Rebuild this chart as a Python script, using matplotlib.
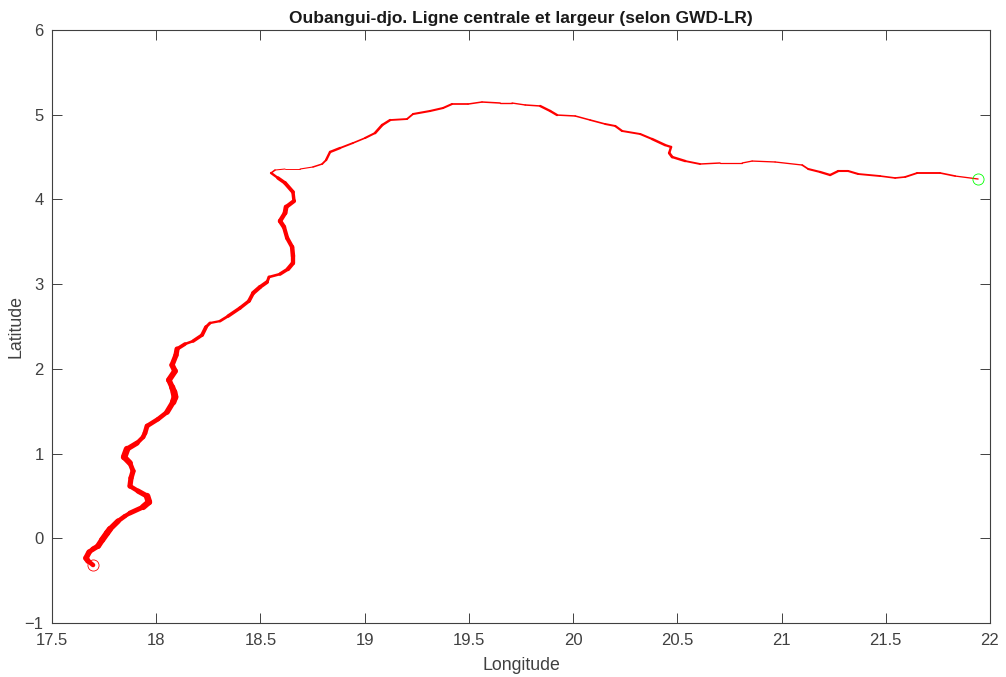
import numpy as np
import matplotlib
matplotlib.use("Agg")
import matplotlib.pyplot as plt
from matplotlib.collections import LineCollection

plt.rcParams["font.family"] = ["Liberation Sans", "DejaVu Sans"]

lon = [
    17.697, 17.673, 17.663, 17.678, 17.697, 17.721, 17.740, 17.764, 17.778, 17.817,
    17.850, 17.874, 17.937, 17.965, 17.956, 17.913, 17.874, 17.879, 17.889, 17.874,
    17.846, 17.860, 17.908, 17.937, 17.946, 17.956, 18.009, 18.052, 18.081, 18.090,
    18.085, 18.076, 18.061, 18.090, 18.076, 18.095, 18.100, 18.138, 18.177, 18.220,
    18.239, 18.258, 18.306, 18.345, 18.402, 18.445, 18.465, 18.498, 18.532, 18.541,
    18.594, 18.632, 18.656, 18.656, 18.652, 18.628, 18.613, 18.594, 18.618, 18.623,
    18.661, 18.656, 18.618, 18.584, 18.551, 18.570, 18.618, 18.690, 18.752, 18.796,
    18.815, 18.834, 18.882, 18.944, 19.002, 19.050, 19.084,
    19.122, 19.203, 19.232, 19.314, 19.376, 19.419, 19.496, 19.563, 19.650, 19.707,
    19.770, 19.842, 19.890, 19.923, 20.010, 20.082, 20.154, 20.202, 20.235, 20.322,
    20.379, 20.441, 20.470, 20.461, 20.475, 20.538, 20.609, 20.705, 20.811, 20.859,
    20.969, 21.099, 21.128, 21.185, 21.233, 21.272, 21.320, 21.368, 21.473, 21.545,
    21.593, 21.651, 21.761, 21.833, 21.943,
]
lat = [
    -0.316, -0.269, -0.234, -0.163, -0.127, -0.092, -0.021, 0.062, 0.109, 0.203,
    0.262, 0.298, 0.369, 0.428, 0.498, 0.557, 0.616, 0.711, 0.794, 0.888,
    0.959, 1.053, 1.124, 1.195, 1.242, 1.325, 1.407, 1.490, 1.608, 1.667,
    1.726, 1.785, 1.868, 1.974, 2.045, 2.163, 2.234, 2.293, 2.328, 2.399,
    2.494, 2.541, 2.564, 2.623, 2.718, 2.801, 2.895, 2.966, 3.025, 3.084,
    3.119, 3.178, 3.249, 3.332, 3.438, 3.545, 3.674, 3.745, 3.840, 3.910,
    3.981, 4.087, 4.194, 4.253, 4.312, 4.347, 4.359, 4.359, 4.383, 4.418,
    4.465, 4.560, 4.607, 4.666, 4.725, 4.784, 4.878,
    4.937, 4.949, 5.008, 5.044, 5.079, 5.126, 5.126, 5.150, 5.138, 5.138,
    5.115, 5.103, 5.044, 4.996, 4.985, 4.937, 4.890, 4.867, 4.808, 4.772,
    4.713, 4.642, 4.619, 4.548, 4.501, 4.453, 4.418, 4.430, 4.430, 4.453,
    4.442, 4.406, 4.359, 4.324, 4.288, 4.335, 4.335, 4.300, 4.276, 4.253,
    4.265, 4.312, 4.312, 4.276, 4.241,
]
# river width along the centre line, in points
width = [
    3, 3.5, 4.5, 3.5, 3.5, 4, 4.5, 4.5, 4.5, 3.5,
    3, 3, 4, 5, 4.5, 3, 3.5, 4, 3.5, 3.5,
    5, 4.5, 3, 3.2, 3.5, 3.5, 3, 3.5, 4.5, 5,
    5, 4, 4, 4.5, 3.5, 4, 3.5, 1.8, 2, 3,
    2.5, 1.8, 1.5, 2.5, 2.5, 2.5, 3, 3, 2.5, 1.8,
    2, 3, 3.2, 3, 3.5, 2.5, 3.5, 3, 3.5, 3.5,
    2.5, 2.5, 3, 2, 1.5, 0.8, 0.7, 0.6, 1, 1.2,
    1.5, 2, 1.5, 1.2, 1.2, 1.8, 2,
    1.5, 1.2, 1.5, 1.5, 1.5, 1.5, 1, 1.2, 1, 1,
    1, 1.2, 2.2, 1.2, 1, 1.2, 1.2, 1.6, 1.6, 1.2,
    1.8, 1.8, 1.5, 2, 2, 1.5, 1.2, 0.9, 0.9, 1,
    0.9, 1, 1.5, 1.5, 1.8, 1.5, 1.5, 1.5, 1.2, 1.2,
    1.2, 1.5, 1.2, 1.2, 0.7,
]
x_ticks = [17.5, 18, 18.5, 19, 19.5, 20, 20.5, 21, 21.5, 22]
x_labels = ["17.5", "18", "18.5", "19", "19.5", "20", "20.5", "21", "21.5", "22"]
y_ticks = [-1, 0, 1, 2, 3, 4, 5, 6]

dark = "#404040"

fig = plt.figure(figsize=(10.06, 6.77), dpi=100)
ax = fig.add_axes([52 / 1006, 1 - 623 / 677, 938 / 1006, 593 / 677])

points = np.column_stack([lon, lat])
segments = np.stack([points[:-1], points[1:]], axis=1)
seg_width = (np.array(width[:-1]) + np.array(width[1:])) / 2
ax.add_collection(LineCollection(segments, linewidths=seg_width, colors="#ff0000", capstyle="round"))

ax.plot(lon[0], lat[0], "o", mfc="none", mec="#ff0000", ms=8, mew=0.6)
ax.plot(lon[-1], lat[-1], "o", mfc="none", mec="#00ff00", ms=8, mew=0.6)

ax.set_xlim(17.5, 22)
ax.set_ylim(-1, 6)
ax.set_xticks(x_ticks)
ax.set_xticklabels(x_labels)
ax.set_yticks(y_ticks)
ax.tick_params(direction="in", top=True, right=True, length=7, width=0.7,
               color=dark, labelcolor=dark, labelsize=12)
ax.tick_params(axis="x", pad=7.5)
ax.tick_params(axis="y", pad=6)
for s in ax.spines.values():
    s.set_linewidth(0.8)
    s.set_color(dark)

ax.set_xlabel("Longitude", fontsize=12.8, color=dark, labelpad=6.5)
ax.set_ylabel("Latitude", fontsize=12.8, color=dark, labelpad=0)
ax.set_title("Oubangui-djo. Ligne centrale et largeur (selon GWD-LR)",
             fontsize=12.5, fontweight="bold", color="#1a1a1a", pad=5)

fig.savefig("out.png", dpi=100)
